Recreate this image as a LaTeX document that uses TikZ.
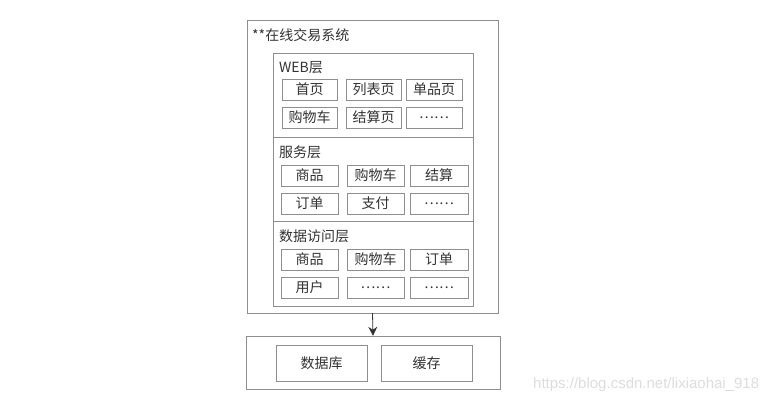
\documentclass[tikz,border=0pt]{standalone}
\usepackage{fontspec}
\setmainfont{Carlito}
\newfontfamily\cjk{Noto Sans CJK SC}
\newfontfamily\wmfont{Liberation Sans}
\usetikzlibrary{arrows.meta}

\definecolor{linegray}{HTML}{8E8E8E}
\definecolor{textgray}{HTML}{333333}
\definecolor{wmgray}{HTML}{DDDDDD}

\tikzset{
  item/.style={draw=linegray, text=textgray, minimum width=56pt, minimum height=21pt, inner sep=0pt, font=\cjk\fontsize{14}{16}\selectfont},
  layername/.style={anchor=west, text=textgray, inner sep=0pt, font=\cjk\fontsize{14}{16}\selectfont},
  frame/.style={draw=linegray, inner sep=0pt}
}

\begin{document}
\begin{tikzpicture}[x=1pt, y=-1pt]
  \useasboundingbox (0,0) rectangle (781,402);
  % system box
  \node[frame, minimum width=251pt, minimum height=293pt] (sys) at (372.5,166.5) {};
  \node[layername] (title) at (252,35) {**在线交易系统};
  % layers
  \draw[linegray] (273,53) rectangle (473,137);
  \draw[linegray] (273,137) rectangle (473,221);
  \draw[linegray] (273,221) rectangle (473,306);
  % WEB layer
  \node[layername] (webname) at (279,68) {WEB\cjk 层};
  \node[item, minimum width=55pt] (w1) at (309.5,89.5) {首页};
  \node[item, minimum width=55pt] (w2) at (373.5,89.5) {列表页};
  \node[item] (w3) at (434,89.5) {单品页};
  \node[item, minimum width=55pt] (w4) at (309.5,117.5) {购物车};
  \node[item, minimum width=55pt] (w5) at (373.5,117.5) {结算页};
  \node[item] (w6) at (434,117.5) {……};
  % service layer
  \node[layername] (srvname) at (279,152) {服务层};
  \node[item, minimum width=57pt] (s1) at (309.5,175.5) {商品};
  \node[item, minimum width=57pt] (s2) at (375.5,175.5) {购物车};
  \node[item, minimum width=58pt] (s3) at (439,175.5) {结算};
  \node[item, minimum width=57pt] (s4) at (309.5,203.5) {订单};
  \node[item, minimum width=57pt] (s5) at (375.5,203.5) {支付};
  \node[item, minimum width=58pt] (s6) at (439,203.5) {……};
  % data access layer
  \node[layername] (daoname) at (279,236) {数据访问层};
  \node[item, minimum width=57pt] (d1) at (309.5,259.5) {商品};
  \node[item, minimum width=57pt] (d2) at (375.5,259.5) {购物车};
  \node[item, minimum width=58pt] (d3) at (439,259.5) {订单};
  \node[item, minimum width=57pt] (d4) at (309.5,287.5) {用户};
  \node[item, minimum width=57pt] (d5) at (375.5,287.5) {……};
  \node[item, minimum width=58pt] (d6) at (439,287.5) {……};
  % storage
  \node[frame, minimum width=254pt, minimum height=53pt] (store) at (373,362.5) {};
  \node[item, minimum width=91pt, minimum height=36pt] (db) at (321.5,363) {数据库};
  \node[item, minimum width=91pt, minimum height=36pt] (cache) at (426.5,363) {缓存};
  % arrow
  \draw[textgray, thick, -{Stealth[length=9pt, width=9pt]}] (sys.south) -- (store.north);
  % watermark
  \node[anchor=west, inner sep=0pt, text=wmgray, font=\wmfont\fontsize{15}{17}\selectfont] (wm) at (533,385) {https://blog.csdn.net/lixiaohai\_918};
\end{tikzpicture}
\end{document}
